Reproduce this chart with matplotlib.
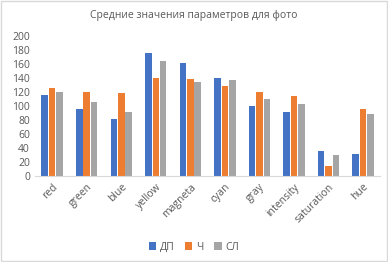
import matplotlib.pyplot as plt
import numpy as np

categories = ['red', 'green', 'blue', 'yellow', 'magneta', 'cyan', 'gray',
              'intensity', 'saturation', 'hue']
dp = [116, 96, 81, 175, 161, 140, 99, 91, 36, 31]
ch = [125, 119, 118, 140, 138, 128, 120, 114, 14, 95]
sl = [119, 106, 91, 164, 134, 136, 110, 103, 29, 88]
series_names = ['ДП', 'Ч', 'СЛ']
colors = ['#4472C4', '#ED7D31', '#A5A5A5']

plt.rcParams['font.family'] = ['Open Sans', 'DejaVu Sans']
txt = '#595959'

fig = plt.figure(figsize=(3.88, 2.62), dpi=100)
ax = fig.add_axes([0.09, 0.329, 0.89, 0.535])

x = np.arange(len(categories))
w = 0.19
for i, (vals, name, c) in enumerate(zip([dp, ch, sl], series_names, colors)):
    ax.bar(x + (i - 1) * 0.215, vals, width=w, color=c, label=name)

ax.set_xlim(-0.5, len(categories) - 0.5)
ax.set_ylim(0, 200)
ax.set_yticks(range(0, 201, 20))
ax.set_xticks(x)
ax.set_xticklabels(categories, rotation=45, ha='right', rotation_mode='anchor')
ax.tick_params(axis='both', length=0, colors=txt, labelsize=7.5)
ax.tick_params(axis='x', pad=4)
for s in ['top', 'right', 'left']:
    ax.spines[s].set_visible(False)
ax.spines['bottom'].set_color('#D9D9D9')

fig.text(0.5, 0.94, 'Средние значения параметров для фото', ha='center',
         va='center', fontsize=7.5, color=txt)
fig.legend(loc='center', bbox_to_anchor=(0.5, 0.057), ncol=3, frameon=False,
           fontsize=7.5, handlelength=0.7, handleheight=0.7, columnspacing=1.0,
           handletextpad=0.4, labelcolor=txt)

fig.patches.append(plt.Rectangle((0.002, 0.002), 0.996, 0.996, transform=fig.transFigure,
                                 fill=False, edgecolor='#D9D9D9', lw=1))
fig.savefig('out.png', dpi=100)
